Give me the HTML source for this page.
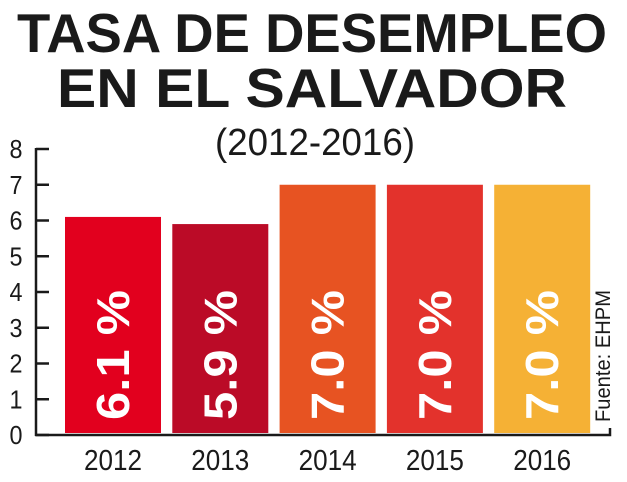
<!DOCTYPE html>
<html><head><meta charset="utf-8"><style>
body{margin:0;background:#fff;width:627px;height:477px;overflow:hidden;font-family:"Liberation Sans",sans-serif}
</style></head><body>
<svg width="627" height="477" xmlns="http://www.w3.org/2000/svg">
<text x="312" y="52" text-anchor="middle" font-family="Liberation Sans" font-weight="bold" font-size="55" fill="#1a1a1a" textLength="590" lengthAdjust="spacingAndGlyphs">TASA DE DESEMPLEO</text>
<text x="312" y="107" text-anchor="middle" font-family="Liberation Sans" font-weight="bold" font-size="55" fill="#1a1a1a" textLength="510" lengthAdjust="spacingAndGlyphs">EN EL SALVADOR</text>
<text x="315" y="155" text-anchor="middle" font-size="38" fill="#1a1a1a" textLength="200" lengthAdjust="spacingAndGlyphs">(2012-2016)</text>
<g id="plot"></g>
<text transform="translate(610,422) rotate(-90)" font-size="21" fill="#1a1a1a" textLength="132" lengthAdjust="spacingAndGlyphs">Fuente: EHPM</text>
</svg>
<script>
const categories=["2012","2013","2014","2015","2016"];
const values=[6.1,5.9,7.0,7.0,7.0];
const valueLabels=["6.1 %","5.9 %","7.0 %","7.0 %","7.0 %"];
const barColors=["#e2001e","#bb0b27","#e75322","#e3322c","#f5b135"];
const yTicks=[0,1,2,3,4,5,6,7,8];
const NS="http://www.w3.org/2000/svg";
const g=document.getElementById('plot');
const y0=435,unit=35.75,x0=65,step=107.3,bw=96;
const y=v=>y0-v*unit;
function mk(t,a){const e=document.createElementNS(NS,t);for(const k in a)e.setAttribute(k,a[k]);g.appendChild(e);return e;}
values.forEach((v,i)=>{
 const x=x0+i*step;
 const r=mk('rect',{x:x,y:y(v),width:bw,height:y0-2-y(v),fill:barColors[i]});
 
 
 const t=mk('text',{transform:`translate(${x+bw/2+16},${y0-15}) rotate(-90)`,'font-size':'46','font-weight':'bold',fill:'#fff',textLength:'130',lengthAdjust:'spacingAndGlyphs'});
 t.textContent=valueLabels[i];
 
 
 const c=mk('text',{x:x+bw/2,y:470,'text-anchor':'middle','font-size':'29',fill:'#1a1a1a',textLength:'58',lengthAdjust:'spacingAndGlyphs'});
 c.textContent=categories[i];
 
 
});
yTicks.forEach(v=>{
 const l=mk('line',{x1:36,x2:49,y1:y(v),y2:y(v),stroke:'#1a1a1a','stroke-width':'2.5'});
 
 
 const t=mk('text',{x:16,y:y(v)+9,'text-anchor':'middle','font-size':'26',fill:'#1a1a1a',textLength:'13',lengthAdjust:'spacingAndGlyphs'});
 t.textContent=v;
 
 
});
const ya=mk('line',{x1:36,x2:36,y1:y(8)-1,y2:y0+1,stroke:'#1a1a1a','stroke-width':'2.5'});


const xa=mk('polyline',{points:`35,${y0} 610,${y0} 610,${y0-7}`,fill:'none',stroke:'#1a1a1a','stroke-width':'2.5'});


</script>
</body></html>
